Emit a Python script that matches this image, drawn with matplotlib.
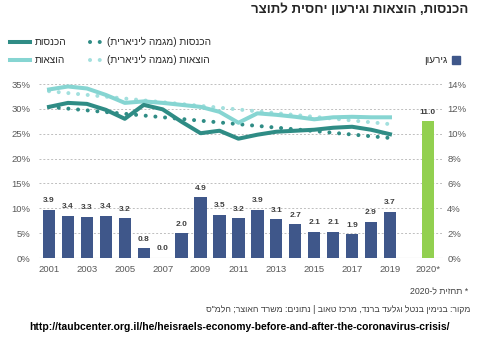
import re
import numpy as np
import matplotlib
matplotlib.use('Agg')
import matplotlib.pyplot as plt
from matplotlib.lines import Line2D
from matplotlib.patches import Rectangle

plt.rcParams['font.family'] = ['Liberation Sans', 'DejaVu Sans']

# data
years = ['2001', '2002', '2003', '2004', '2005', '2006', '2007', '2008', '2009', '2010',
         '2011', '2012', '2013', '2014', '2015', '2016', '2017', '2018', '2019']
deficit = [3.9, 3.4, 3.3, 3.4, 3.2, 0.8, 0.0, 2.0, 4.9, 3.5,
           3.2, 3.9, 3.1, 2.7, 2.1, 2.1, 1.9, 2.9, 3.7]
deficit_2020 = 11.0
revenue = [30.4, 31.2, 31.0, 29.8, 28.0, 30.8, 29.9, 27.4, 25.1, 25.6,
           24.0, 24.8, 25.4, 25.6, 25.8, 26.2, 26.4, 25.8, 24.9]
expenses = [33.9, 34.5, 34.1, 32.8, 31.2, 31.5, 31.2, 30.8, 30.4, 29.4,
            27.2, 29.1, 28.8, 28.4, 27.9, 28.3, 28.4, 28.3, 28.3]
tick_labels = ['2001', '2003', '2005', '2007', '2009', '2011', '2013', '2015', '2017', '2019', '2020*']

title = 'הכנסות, הוצאות וגירעון יחסית לתוצר'
lbl_rev = 'הכנסות'
lbl_exp = 'הוצאות'
lbl_rev_tr = 'הכנסות (מגמה ליניארית)'
lbl_exp_tr = 'הוצאות (מגמה ליניארית)'
lbl_def = 'גירעון'
note = '* תחזית ל-2020'
source = 'מקור: בנימין בנטל וגלעד ברנד, מרכז טאוב | נתונים: משרד האוצר; הלמ"ס'
url = 'http://taubcenter.org.il/he/heisraels-economy-before-and-after-the-coronavirus-crisis/'


def rtl(s):
    # visual order for hebrew text, keep numbers in order
    parts = re.findall(r'[0-9A-Za-z.]+|.', s)
    mirror = {'(': ')', ')': '('}
    return ''.join(mirror.get(p, p) for p in reversed(parts))


DARK = '#2f8c85'
LIGHT = '#86d5d2'
BAR = '#3f578a'
GREEN = '#92d050'
GRAY = '#595959'

W, H = 479, 339
fig = plt.figure(figsize=(W / 100, H / 100), dpi=100)
ax = fig.add_axes([39 / W, 1 - 258 / H, (443 - 39) / W, (258 - 84) / H])
ax2 = ax.twinx()

x = np.arange(len(years))
x_2020 = len(years) + 1

# bars on the right axis
ax2.bar(x, deficit, width=0.65, color=BAR, zorder=2)
ax2.bar([x_2020], [deficit_2020], width=0.65, color=GREEN, zorder=2)
for xi, v in zip(list(x) + [x_2020], deficit + [deficit_2020]):
    ax2.annotate(f'{v:.1f}', (xi, v), xytext=(0, 4), textcoords='offset points',
                 ha='center', va='bottom', fontsize=6, color='#404040', fontweight='bold')

# trend lines
rev_fit = np.polyval(np.polyfit(x, revenue, 1), x)
exp_fit = np.polyval(np.polyfit(x, expenses, 1), x)
dot = (0, (0.01, 2.4))
ax.plot(x, exp_fit, color='#a3e0de', lw=2.9, ls=dot, dash_capstyle='round', zorder=3)
ax.plot(x, rev_fit, color=DARK, lw=2.9, ls=dot, dash_capstyle='round', zorder=3)
ax.plot(x, expenses, color=LIGHT, lw=2.9, zorder=4)
ax.plot(x, revenue, color=DARK, lw=2.9, zorder=4)

ax.set_zorder(ax2.get_zorder() + 1)
ax.patch.set_visible(False)

ax.set_ylim(0, 35)
ax2.set_ylim(0, 14)
ax.set_xlim(-0.53, 20.8)
ax.set_yticks(np.arange(0, 36, 5))
ax.set_yticklabels([f'{v}%' for v in range(0, 36, 5)])
ax2.set_yticks(np.arange(0, 15, 2))
ax2.set_yticklabels([f'{v}%' for v in range(0, 15, 2)])
ax.set_xticks(list(x[::2]) + [x_2020])
ax.set_xticklabels(tick_labels)

for a in (ax, ax2):
    for s in a.spines.values():
        s.set_visible(False)
    a.tick_params(length=0, labelsize=6.8, labelcolor=GRAY)
ax.tick_params(axis='y', pad=6)
ax2.tick_params(axis='y', pad=3)
ax.tick_params(axis='x', pad=5)
ax2.yaxis.grid(True, color='#bfbfbf', ls=(0, (2, 2)), lw=0.7, zorder=0)
ax2.set_axisbelow(True)
ax2.axhline(0, color='#bfbfbf', lw=0.8, zorder=1)


def fx(px):
    return px / W


def fy(py):
    return 1 - py / H


# title
fig.text(fx(468), fy(10), rtl(title), ha='right', va='center', fontsize=9.5,
         fontweight='bold', color='#262626')

# legend drawn by hand
leg_fs = 7.2
for py, col, dcol, lab, tlab in [(42, DARK, DARK, lbl_rev, lbl_rev_tr),
                                  (60, LIGHT, '#a3e0de', lbl_exp, lbl_exp_tr)]:
    fig.add_artist(Line2D([fx(10), fx(30)], [fy(py), fy(py)], color=col, lw=2.9,
                          transform=fig.transFigure))
    fig.text(fx(35), fy(py), rtl(lab), ha='left', va='center', fontsize=leg_fs, color='#262626')
    fig.add_artist(Line2D([fx(90), fx(100)], [fy(py), fy(py)], color=dcol, lw=2.9,
                          ls=dot, dash_capstyle='round', transform=fig.transFigure))
    fig.text(fx(107), fy(py), rtl(tlab), ha='left', va='center', fontsize=leg_fs, color='#262626')

fig.add_artist(Rectangle((fx(452), fy(64)), fx(8), 8 / H, color=BAR, transform=fig.transFigure))
fig.text(fx(447), fy(60), rtl(lbl_def), ha='right', va='center', fontsize=leg_fs, color='#262626')

# notes
fig.text(fx(468), fy(292), rtl(note), ha='right', va='center', fontsize=6.3, color='#404040')
fig.text(fx(470), fy(309), rtl(source), ha='right', va='center', fontsize=6.3, color='#404040')
fig.text(fx(240), fy(327), url, ha='center', va='center', fontsize=7.5, fontweight='bold',
         color='black')

fig.savefig('out.png', dpi=100)
